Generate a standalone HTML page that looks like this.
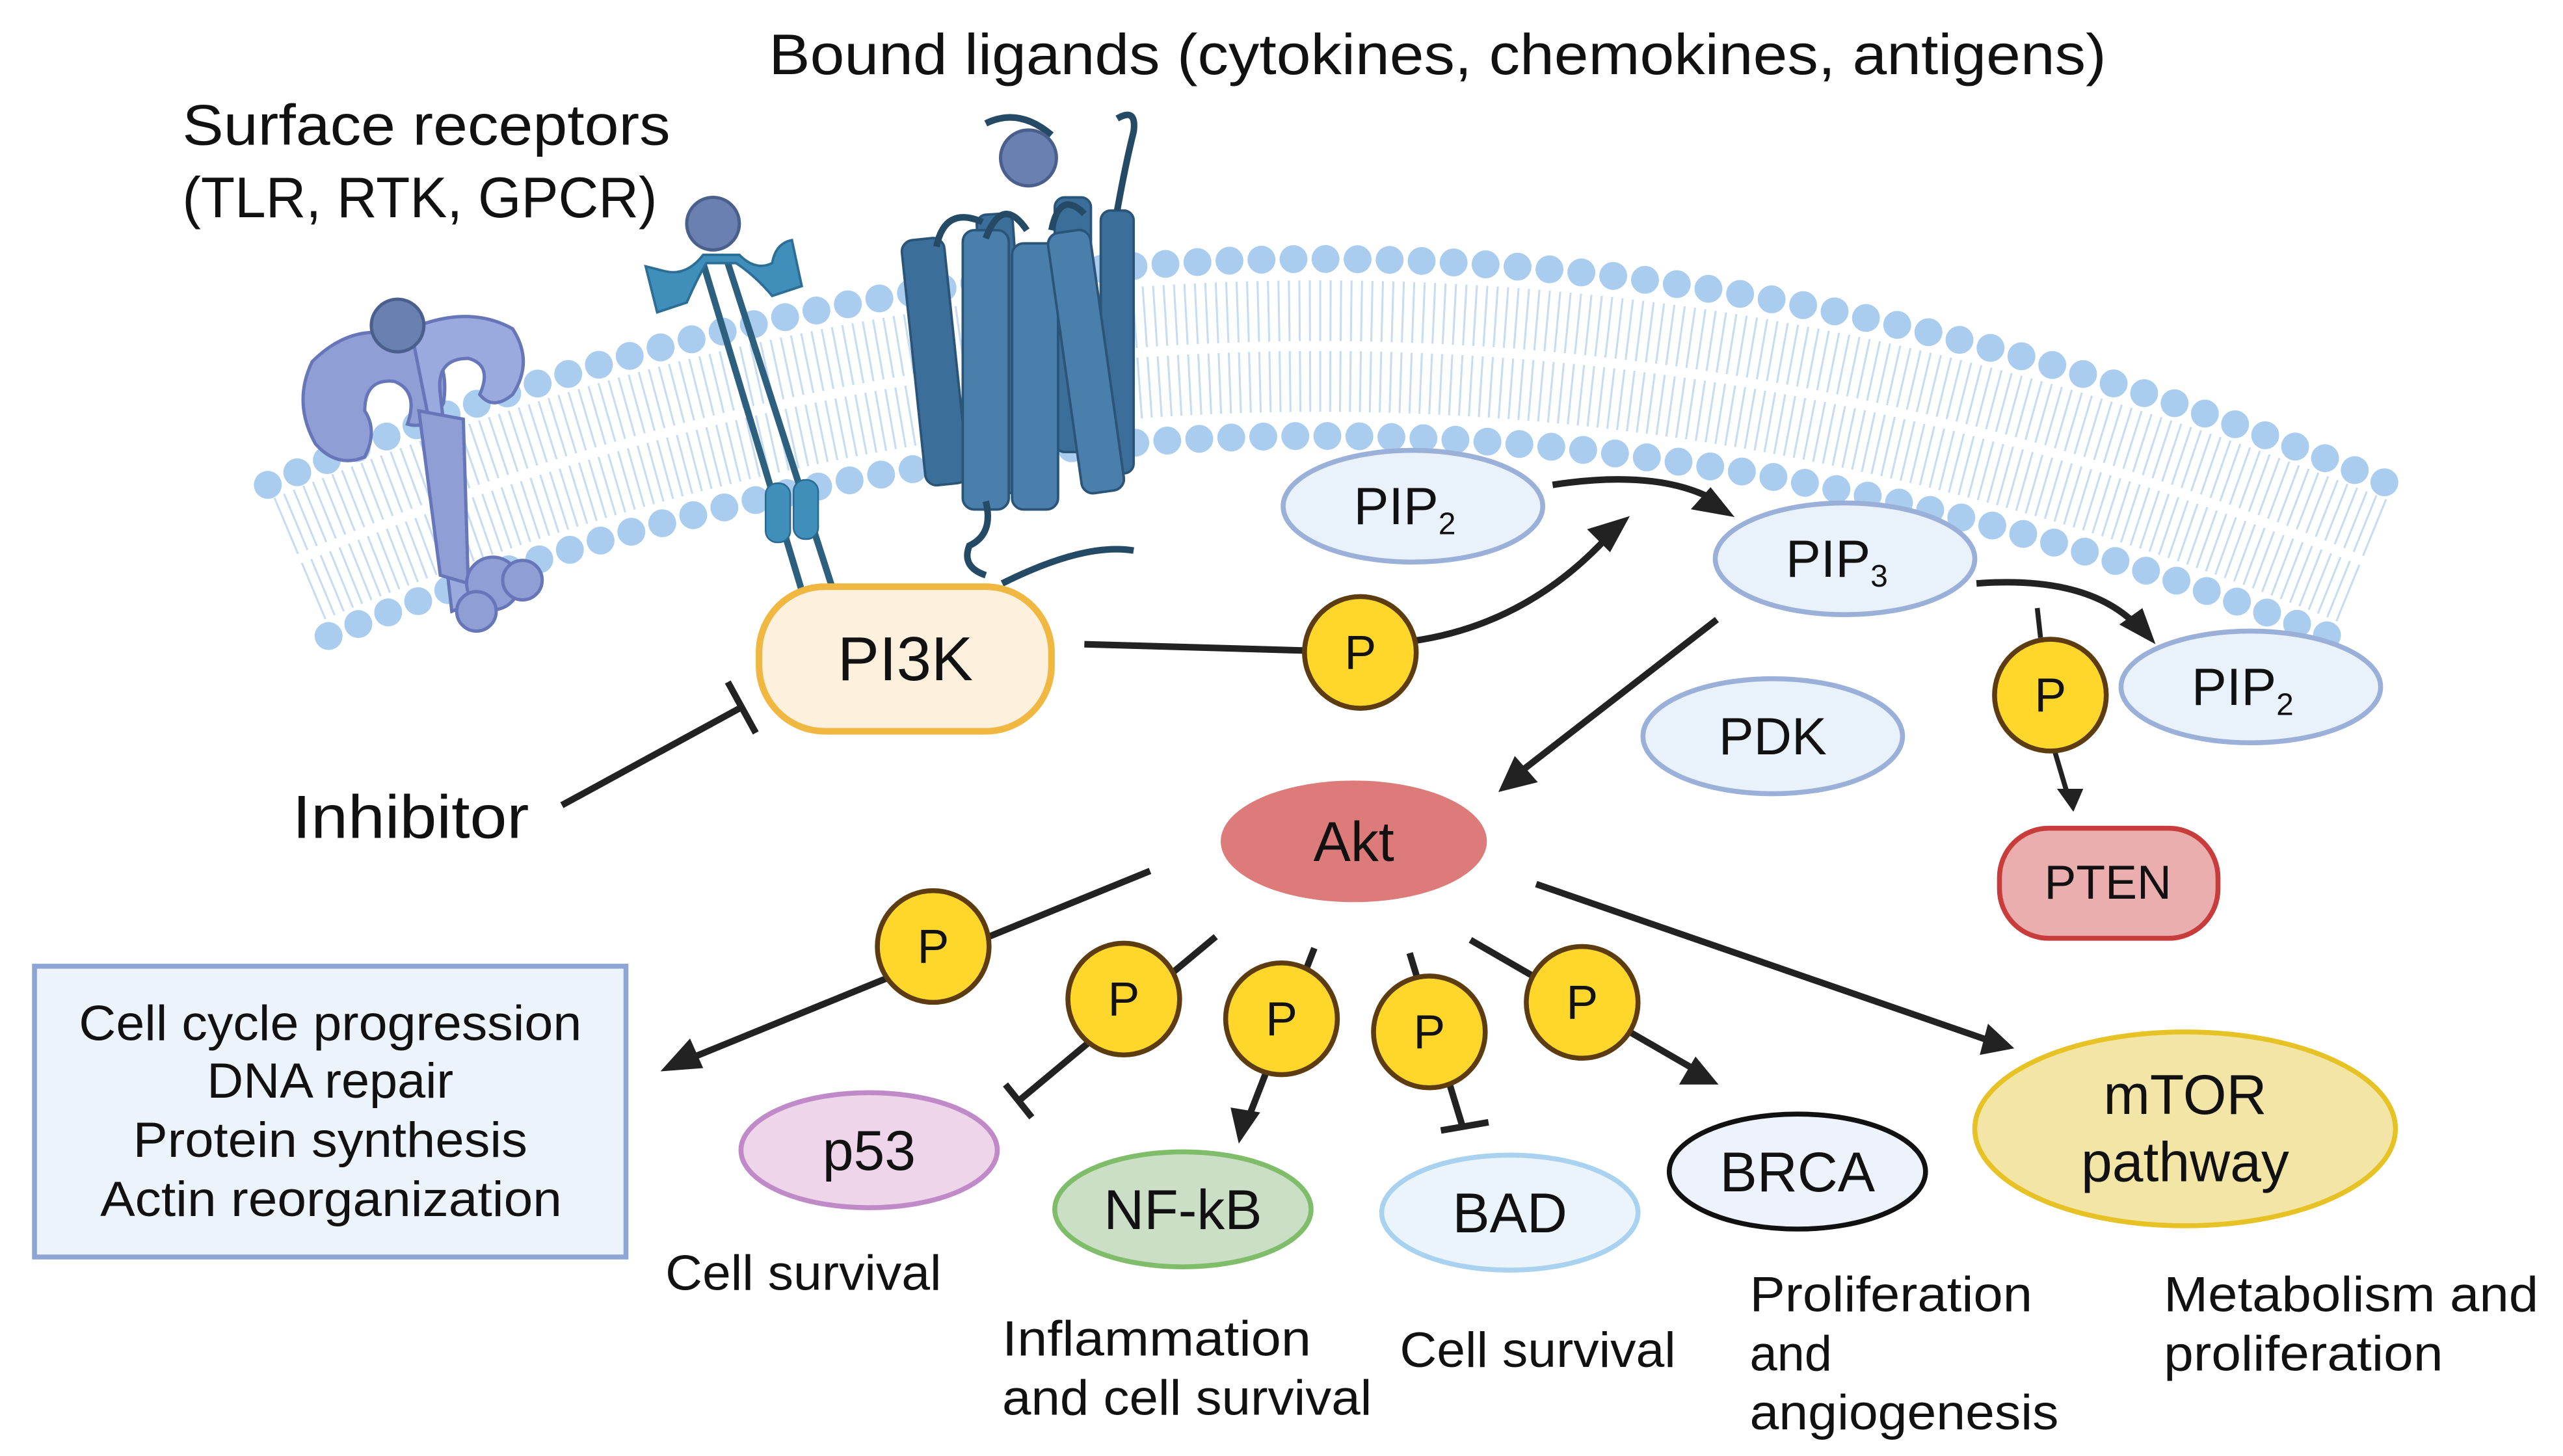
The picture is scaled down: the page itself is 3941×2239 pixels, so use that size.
<!DOCTYPE html>
<html><head><meta charset="utf-8"><style>
html,body{margin:0;padding:0;background:#fff;}
svg{display:block;}
text{font-family:"Liberation Sans",sans-serif;fill:#111;}
</style></head><body>
<svg width="3941" height="2239" viewBox="0 0 1560 886" xmlns="http://www.w3.org/2000/svg">
<!-- membrane tails -->
<path d="M182,340 Q800,80 1440,342" fill="none" stroke="#c6dcf2" stroke-width="80" stroke-dasharray="1.2 5"/>
<path d="M182,340 Q800,80 1440,342" fill="none" stroke="#fff" stroke-width="6"/>
<path d="M163,295 Q800,20 1455,295" fill="none" stroke="#aacdef" stroke-width="17" stroke-linecap="round" stroke-dasharray="0 19.5"/>
<path d="M200,387 Q800,142 1425,390" fill="none" stroke="#aacdef" stroke-width="17" stroke-linecap="round" stroke-dasharray="0 19.5"/>

<!-- TLR receptor -->
<g fill="#8f9fd6" stroke="#6776b8" stroke-width="2">
<path d="M190,220 Q215,195 245,205 Q275,210 270,245 Q262,262 248,258 Q255,238 240,232 Q222,230 222,250 Q230,262 222,278 Q205,285 192,270 Q178,245 190,220Z"/>
<path d="M250,200 Q285,185 312,200 Q325,220 312,240 Q300,250 292,240 Q300,222 285,218 Q265,218 268,240 L280,345 Q295,350 300,362 L275,372 L262,260 Z" fill="#9aaade"/>
<path d="M255,250 L268,350 L285,355 L282,255Z"/>
<circle cx="300" cy="355" r="16"/><circle cx="318" cy="353" r="12"/><circle cx="290" cy="372" r="12"/>
</g>
<circle cx="242" cy="198" r="16" fill="#6a80b0" stroke="#4b5f8c" stroke-width="2"/>
<!-- RTK -->
<g stroke="#2d5f7f" stroke-width="4" fill="none">
<line x1="428" y1="160" x2="490" y2="366"/><line x1="443" y1="160" x2="508" y2="362"/>
</g>
<path d="M393,162 L400,190 L418,184 Q425,168 430,160 L448,160 Q460,168 470,180 L488,174 L482,146 Q472,148 470,160 Q460,165 450,155 L428,155 Q418,168 405,165 Z" fill="#3f8fba" stroke="#2d6e96" stroke-width="1.5"/>
<rect x="466" y="294" width="15" height="36" rx="7" fill="#3f8fba" stroke="#2a6a92"/>
<rect x="483" y="292" width="15" height="36" rx="7" fill="#3f8fba" stroke="#2a6a92"/>
<circle cx="434" cy="136" r="16" fill="#6a80b0" stroke="#4b5f8c" stroke-width="2"/>
<!-- GPCR -->
<g fill="#3b6f99" stroke="#2a5478" stroke-width="1.5">
<rect x="600" y="130" width="22" height="170" rx="6" transform="rotate(-4 611 215)"/>
<rect x="670" y="128" width="20" height="160" rx="6"/>
<rect x="642" y="120" width="22" height="155" rx="6"/>
<rect x="556" y="145" width="26" height="150" rx="7" transform="rotate(-6 569 220)"/>
<rect x="586" y="140" width="28" height="170" rx="7" fill="#4a7fab"/>
<rect x="616" y="148" width="28" height="162" rx="7" fill="#4a7fab"/>
<rect x="648" y="140" width="26" height="160" rx="7" transform="rotate(-8 661 220)" fill="#4a7fab"/>
</g>
<g fill="none" stroke="#254a66" stroke-width="4">
<path d="M570,150 Q575,125 598,135"/><path d="M600,145 Q610,118 625,140"/><path d="M640,140 Q645,115 660,130"/>
<path d="M680,128 Q685,100 690,80 Q692,65 680,72"/><path d="M600,75 Q620,65 640,82"/>
<path d="M600,305 Q605,325 590,332 Q585,345 600,350"/><path d="M610,355 Q660,330 690,335"/>
</g>
<circle cx="626" cy="96" r="17" fill="#6a80b0" stroke="#4b5f8c" stroke-width="2"/>

<text x="468" y="45" font-size="35" textLength="814" lengthAdjust="spacingAndGlyphs">Bound ligands (cytokines, chemokines, antigens)</text>
<text x="111" y="88" font-size="35" textLength="297" lengthAdjust="spacingAndGlyphs">Surface receptors</text>
<text x="111" y="132" font-size="35" textLength="289" lengthAdjust="spacingAndGlyphs">(TLR, RTK, GPCR)</text>

<rect x="462" y="357" width="178" height="88" rx="40" fill="#fdf0dd" stroke="#f0b840" stroke-width="4"/>
<text x="551" y="414" font-size="38" text-anchor="middle">PI3K</text>
<text x="178" y="510" font-size="37" textLength="144" lengthAdjust="spacingAndGlyphs">Inhibitor</text>
<line x1="342" y1="490" x2="452" y2="430" stroke="#222" stroke-width="4"/>
<line x1="443" y1="415" x2="460" y2="446" stroke="#222" stroke-width="4"/>

<path d="M660,392 L800,396" stroke="#222" stroke-width="4" fill="none"/>
<path d="M860,390 Q930,380 980,325" stroke="#222" stroke-width="4" fill="none"/>
<polygon points="992,314 966,322 980,336" fill="#222"/>
<path d="M945,295 Q1010,285 1045,305" stroke="#222" stroke-width="4" fill="none"/>
<polygon points="1057,313 1030,312 1040,297" fill="#222" transform="rotate(8 1045 305)"/>

<g font-size="32" text-anchor="middle">
<ellipse cx="860" cy="308" rx="79" ry="34" fill="#e9f1fb" stroke="#9ab0d8" stroke-width="3"/>
<text x="855" y="319">PIP<tspan font-size="19" dy="6">2</tspan></text>
<ellipse cx="1123" cy="340" rx="79" ry="34" fill="#e9f1fb" stroke="#9ab0d8" stroke-width="3"/>
<text x="1118" y="351">PIP<tspan font-size="19" dy="6">3</tspan></text>
<ellipse cx="1370" cy="418" rx="79" ry="34" fill="#e9f1fb" stroke="#9ab0d8" stroke-width="3"/>
<text x="1365" y="429">PIP<tspan font-size="19" dy="6">2</tspan></text>
<ellipse cx="1079" cy="448" rx="79" ry="35" fill="#e9f1fb" stroke="#9ab0d8" stroke-width="3"/>
<text x="1079" y="459">PDK</text>
</g>
<path d="M1203,355 Q1270,350 1300,380" stroke="#222" stroke-width="4" fill="none"/>
<polygon points="1312,392 1290,380 1304,370" fill="#222"/>
<line x1="1240" y1="370" x2="1242" y2="388" stroke="#222" stroke-width="3"/>
<line x1="1250" y1="455" x2="1258" y2="482" stroke="#222" stroke-width="3"/>
<polygon points="1252,480 1268,480 1262,494" fill="#222"/>
<rect x="1217" y="504" width="133" height="67" rx="30" fill="#eaaeae" stroke="#c83c3c" stroke-width="3"/>
<text x="1283" y="547" font-size="29" text-anchor="middle">PTEN</text>

<line x1="1045" y1="377" x2="925" y2="470" stroke="#222" stroke-width="4"/>
<polygon points="912,482 922,460 936,476" fill="#222"/>
<ellipse cx="824" cy="512" rx="81" ry="37" fill="#dc7b7a"/>
<text x="824" y="524" font-size="34" text-anchor="middle">Akt</text>

<g stroke="#222" stroke-width="4" fill="none">
<line x1="700" y1="530" x2="418" y2="645"/>
<line x1="740" y1="570" x2="620" y2="670"/><line x1="612" y1="660" x2="628" y2="680"/>
<line x1="800" y1="577" x2="760" y2="680"/>
<line x1="858" y1="580" x2="890" y2="685"/><line x1="877" y1="688" x2="906" y2="683"/>
<line x1="895" y1="572" x2="1030" y2="650"/>
<line x1="935" y1="538" x2="1210" y2="633"/>
</g>
<g fill="#222">
<polygon points="402,652 420,632 428,650"/>
<polygon points="754,696 749,674 767,677"/>
<polygon points="1046,660 1022,660 1032,643"/>
<polygon points="1226,638 1205,642 1210,623"/>
</g>
<g fill="#fed72a" stroke="#5c3c10" stroke-width="3">
<circle cx="828" cy="397" r="34"/><circle cx="1248" cy="423" r="34"/>
<circle cx="568" cy="576" r="34"/><circle cx="684" cy="608" r="34"/><circle cx="780" cy="620" r="34"/>
<circle cx="870" cy="628" r="34"/><circle cx="963" cy="610" r="34"/>
</g>
<g font-size="29" text-anchor="middle">
<text x="828" y="407">P</text><text x="1248" y="433">P</text><text x="568" y="586">P</text>
<text x="684" y="618">P</text><text x="780" y="630">P</text><text x="870" y="638">P</text><text x="963" y="620">P</text>
</g>

<rect x="21" y="588" width="360" height="177" fill="#edf3fb" stroke="#8ea6d6" stroke-width="3"/>
<g font-size="30">
<text x="48" y="633" textLength="306" lengthAdjust="spacingAndGlyphs">Cell cycle progression</text>
<text x="126" y="668" textLength="150" lengthAdjust="spacingAndGlyphs">DNA repair</text>
<text x="81" y="704" textLength="240" lengthAdjust="spacingAndGlyphs">Protein synthesis</text>
<text x="61" y="740" textLength="281" lengthAdjust="spacingAndGlyphs">Actin reorganization</text>
</g>

<ellipse cx="529" cy="700" rx="78" ry="35" fill="#efd5e9" stroke="#c08ac8" stroke-width="3"/>
<text x="529" y="712" font-size="34" text-anchor="middle">p53</text>
<ellipse cx="720" cy="736" rx="78" ry="35" fill="#cadfc6" stroke="#80bd6a" stroke-width="3"/>
<text x="720" y="748" font-size="34" text-anchor="middle">NF-kB</text>
<ellipse cx="919" cy="738" rx="78" ry="35" fill="#ecf4fb" stroke="#a8d2f0" stroke-width="3"/>
<text x="919" y="750" font-size="34" text-anchor="middle">BAD</text>
<ellipse cx="1094" cy="713" rx="78" ry="35" fill="#eef3fb" stroke="#111" stroke-width="3"/>
<text x="1094" y="725" font-size="34" text-anchor="middle">BRCA</text>
<ellipse cx="1330" cy="687" rx="128" ry="59" fill="#f3e5a6" stroke="#e6c224" stroke-width="3"/>
<text x="1330" y="678" font-size="34" text-anchor="middle">mTOR</text>
<text x="1330" y="719" font-size="34" text-anchor="middle">pathway</text>

<g font-size="30" lengthAdjust="spacingAndGlyphs">
<text x="405" y="785" textLength="168" lengthAdjust="spacingAndGlyphs">Cell survival</text>
<text x="610" y="825" textLength="188" lengthAdjust="spacingAndGlyphs">Inflammation</text>
<text x="610" y="861" textLength="225" lengthAdjust="spacingAndGlyphs">and cell survival</text>
<text x="852" y="832" textLength="168" lengthAdjust="spacingAndGlyphs">Cell survival</text>
<text x="1065" y="798" textLength="172" lengthAdjust="spacingAndGlyphs">Proliferation</text>
<text x="1065" y="834">and</text>
<text x="1065" y="870" textLength="188" lengthAdjust="spacingAndGlyphs">angiogenesis</text>
<text x="1317" y="798" textLength="228" lengthAdjust="spacingAndGlyphs">Metabolism and</text>
<text x="1317" y="834" textLength="170" lengthAdjust="spacingAndGlyphs">proliferation</text>
</g>
</svg>
</body></html>
